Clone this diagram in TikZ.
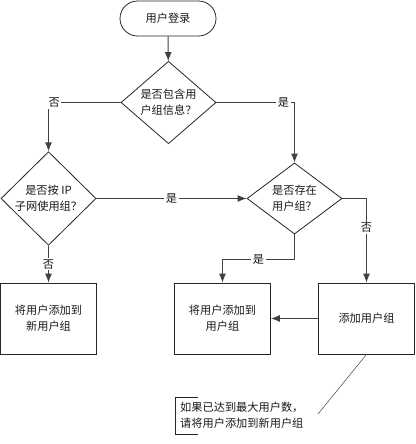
\documentclass[tikz,border=0pt]{standalone}
\usepackage{fontspec}
\setmainfont{Noto Sans CJK SC}
\usetikzlibrary{shapes.geometric,arrows.meta}
\begin{document}
\begin{tikzpicture}[x=1pt,y=-1pt,
  every node/.style={font=\fontsize{11.2}{16}\selectfont, text=black!90},
  shapeline/.style={draw=black!85, line width=0.8pt},
  term/.style={shapeline, rectangle, rounded corners=17.5pt, minimum width=96pt, minimum height=35pt, inner sep=0pt},
  decision/.style={shapeline, diamond, minimum width=95pt, minimum height=71pt, inner sep=0pt, align=center},
  proc/.style={shapeline, rectangle, minimum width=96pt, minimum height=71pt, inner sep=0pt, align=center},
  conn/.style={draw=black!75, line width=1pt},
  arr/.style={conn, -{Latex[length=9pt,width=7pt]}},
  lbl/.style={fill=white, inner sep=1.5pt}
]
\useasboundingbox (0,0) rectangle (415,444);
\node[term] (start) at (168,18.5) {用户登录};
\node[decision] (d1) at (168.5,102.5) {是否包含用\\户组信息？};
\node[decision] (d2) at (48.5,198.5) {是否按 IP\\子网使用组？};
\node[decision] (d3) at (294.5,198.5) {是否存在\\用户组？};
\node[proc] (b1) at (48.5,318.5) {将用户添加到\\新用户组};
\node[proc] (b2) at (222.5,318.5) {将用户添加到\\用户组};
\node[proc] (b3) at (366.5,318.5) {添加用户组};
\node[anchor=west, align=left, inner sep=0pt] (note) at (180,415.5) {如果已达到最大用户数，\\请将用户添加到新用户组};
\coordinate (noteend) at (318,414);
\coordinate (c1) at (48.5,102.5);
\coordinate (c2) at (294.5,102.5);
\coordinate (c3) at (294.5,259);
\coordinate (c4) at (222.5,259);
\coordinate (c5) at (366.5,198.5);

\draw[arr] (start) -- (d1);
\draw[arr] (d1.west) -- (c1) node[lbl, pos=0.92] {否} -- (d2.north);
\draw[arr] (d1.east) -- (c2) node[lbl, pos=0.86] {是} -- (d3.north);
\draw[arr] (d2.east) -- node[lbl] {是} (d3.west);
\draw[arr] (d2.south) -- node[lbl] {否} (b1.north);
\draw[arr] (d3.south) -- (c3) -- node[lbl, pos=0.5] {是} (c4) -- (b2.north);
\draw[arr] (d3.east) -- (c5) -- node[lbl, pos=0.35] {否} (b3.north);
\draw[arr] (b3.west) -- (b2.east);
\draw[draw=black!75, line width=0.5pt] (b3.south) -- (noteend);
\draw[draw=black!85, line width=0.8pt] (198,397) -- (175,397) -- (175,434) -- (198,434);
\end{tikzpicture}
\end{document}
